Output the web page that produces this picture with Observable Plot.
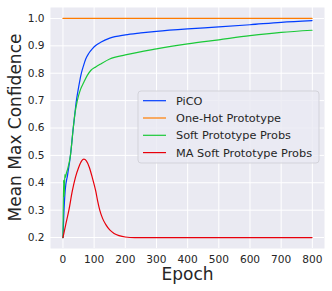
<!DOCTYPE html>
<html><head><meta charset="utf-8">
<script src="https://cdn.jsdelivr.net/npm/d3@7"></script>
<script src="https://cdn.jsdelivr.net/npm/@observablehq/plot@0.6"></script>
<style>body{margin:0;background:#fff;} #chart{width:332px;height:291px;}</style>
</head><body><div id="chart"></div>
<script>
const xTicks = [0,100,200,300,400,500,600,700,800];
const yTicks = [0.2,0.3,0.4,0.5,0.6,0.7,0.8,0.9,1.0];
const seriesNames = ["PiCO","One-Hot Prototype","Soft Prototype Probs","MA Soft Prototype Probs"];
const seriesColors = ["#023EFF","#FF7C00","#1AC938","#E8000B"];
const xLabel = "Epoch";
const yLabel = "Mean Max Confidence";

const picoEpoch = [0,3,7,15,24,33,38,43,48,53,59,66,73,83,94,107,121,150,200,250,300,400,500,600,700,799];
const picoValue = [0.2,0.29,0.37,0.43,0.5,0.6,0.65,0.7,0.735,0.767,0.8,0.828,0.852,0.873,0.889,0.903,0.913,0.928,0.94,0.947,0.953,0.962,0.969,0.977,0.986,0.992];

const oneHotEpoch = [0,799];
const oneHotValue = [1.0,1.0];

const softEpoch = [0,2,4,6,8,11,15,24,33,38,46,56,67,78,89,105,121,150,200,300,400,500,600,700,799];
const softValue = [0.2,0.41,0.35,0.43,0.42,0.435,0.45,0.5,0.6,0.65,0.7,0.74,0.767,0.792,0.81,0.823,0.834,0.852,0.867,0.889,0.907,0.922,0.937,0.949,0.957];

const maEpoch = [0,9,19,30,40,50,60,67,75,85,95,105,111,118,127,137,150,164,180,200,230,400,600,799];
const maValue = [0.2,0.248,0.3,0.37,0.42,0.455,0.48,0.486,0.48,0.455,0.415,0.37,0.335,0.3,0.27,0.248,0.228,0.215,0.207,0.202,0.2,0.2,0.2,0.2];

const seriesEpochs = [picoEpoch, oneHotEpoch, softEpoch, maEpoch];
const seriesValues = [picoValue, oneHotValue, softValue, maValue];
const data = [];
seriesNames.forEach((s,i)=>seriesEpochs[i].forEach((e,j)=>data.push({series:s, epoch:e, value:seriesValues[i][j]})));

const font = "DejaVu Sans";
const ink = "#262626";
const chart = Plot.plot({
  width:332, height:291,
  marginLeft:50, marginRight:8, marginTop:7, marginBottom:43,
  style:{fontFamily:font, background:"white", color:ink, overflow:"visible"},
  x:{domain:[-40,839]},
  y:{domain:[0.16,1.04]},
  color:{domain:seriesNames, range:seriesColors},
  marks:[
    Plot.frame({fill:"#EAEAF2", stroke:null}),
    Plot.gridX(xTicks,{stroke:"white", strokeOpacity:1, strokeWidth:1}),
    Plot.gridY(yTicks,{stroke:"white", strokeOpacity:1, strokeWidth:1}),
    Plot.axisX(xTicks,{tickSize:0, tickPadding:7, fontSize:10.6, label:null, tickFormat:d=>String(d), fill:ink}),
    Plot.axisY(yTicks,{tickSize:0, tickPadding:6, fontSize:10.6, label:null, tickFormat:d=>d.toFixed(1), fill:ink}),
    Plot.line(data,{x:"epoch", y:"value", z:"series", stroke:"series", strokeWidth:1.2, curve:"monotone-x"})
  ]
});
document.getElementById("chart").appendChild(chart);

const svg = d3.select(chart);
// axis labels
svg.append("text").attr("x",187.5).attr("y",280).attr("text-anchor","middle")
  .attr("font-family",font).attr("font-size",17).attr("fill",ink).text(xLabel);
svg.append("text").attr("transform","translate(15,127.5) rotate(-90)").attr("dy","0.35em")
  .attr("text-anchor","middle").attr("font-family",font).attr("font-size",17).attr("fill",ink).text(yLabel);

// legend
const lg = svg.append("g");
lg.append("rect").attr("x",138).attr("y",91).attr("width",181).attr("height",72).attr("rx",3)
  .attr("fill","#EAEAF2").attr("fill-opacity",0.8).attr("stroke","#d3d3da").attr("stroke-width",1);
seriesNames.forEach((s,i)=>{
  const y = 100.7 + i*17.3;
  lg.append("line").attr("x1",143).attr("x2",166).attr("y1",y).attr("y2",y)
    .attr("stroke",seriesColors[i]).attr("stroke-width",1.2);
  lg.append("text").attr("x",176).attr("y",y).attr("dy","0.35em").attr("text-anchor","start").text(s)
    .attr("font-family",font).attr("font-size",11.3).attr("fill",ink);
});
</script>
</body></html>
